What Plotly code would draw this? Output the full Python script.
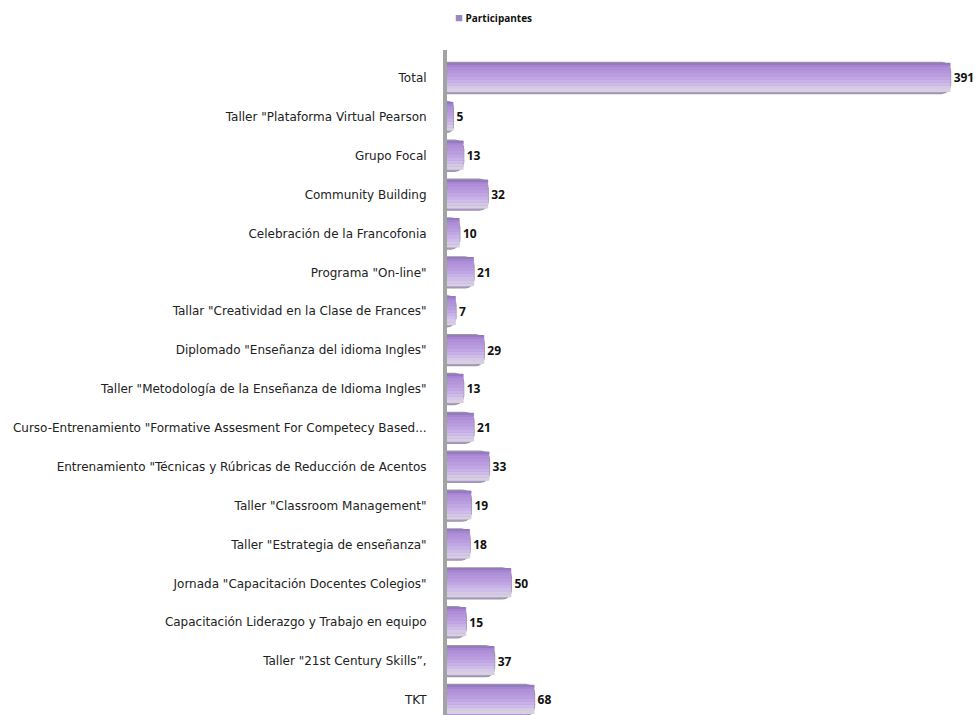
import plotly.graph_objects as go

categories = [
    "Total",
    'Taller "Plataforma Virtual Pearson',
    "Grupo Focal",
    "Community Building",
    "Celebración de la Francofonia",
    'Programa "On-line"',
    'Tallar "Creatividad en la Clase de Frances"',
    'Diplomado "Enseñanza del idioma Ingles"',
    'Taller "Metodología de la Enseñanza de Idioma Ingles"',
    'Curso-Entrenamiento "Formative Assesment For Competecy Based...',
    'Entrenamiento "Técnicas y Rúbricas de Reducción de Acentos',
    'Taller "Classroom Management"',
    'Taller "Estrategia de enseñanza"',
    'Jornada "Capacitación Docentes Colegios"',
    "Capacitación Liderazgo y Trabajo en equipo",
    'Taller "21st Century Skills”,',
    "TKT",
]
participantes = [391, 5, 13, 32, 10, 21, 7, 29, 13, 21, 33, 19, 18, 50, 15, 37, 68]
series_name = "Participantes"

# plot bottom-to-top
cats = categories[::-1]
vals = participantes[::-1]

# shading bands (offset, width, colour, radius) for the cylinder look
bands = [
    (-0.36, 0.08, "#D6D0DF", 3),
    (-0.28, 0.08, "#D6C9E6", 3),
    (-0.20, 0.08, "#CFBDE9", 3),
    (-0.12, 0.08, "#C8B1E7", 3),
    (-0.04, 0.08, "#C0A6E3", 3),
    (0.04, 0.08, "#B99DDF", 3),
    (0.20, 0.08, "#AF8FD8", 3),
    (0.28, 0.07, "#A585CF", 3),
    (0.35, 0.04, "#957AC0", 2),
]

fig = go.Figure()
# base bar (medium purple body, grey outline)
fig.add_trace(go.Bar(
    y=cats, x=vals, orientation="h", name=series_name,
    width=0.8, offset=-0.4,
    marker=dict(color="#B596DC", line=dict(color="#9C99A4", width=1.2), cornerradius=9),
    text=[str(v) for v in vals], textposition="outside", cliponaxis=False,
    textfont=dict(family="Open Sans", size=12, color="#111111", weight="bold"),
    showlegend=False, hoverinfo="skip",
))
for off, w, col, rad in bands:
    fig.add_trace(go.Bar(
        y=cats, x=vals, orientation="h", showlegend=False, hoverinfo="skip",
        width=w, offset=off,
        marker=dict(color=col, line=dict(width=0), cornerradius=rad),
    ))

fig.add_annotation(
    xref="paper", yref="paper", x=(453 - 447) / 512, y=1 + (50 - 17) / 665,
    xanchor="left", yanchor="middle", showarrow=False,
    text="<span style='color:#9C86BE;font-size:13px'>■</span> " + series_name,
    font=dict(family="Open Sans", size=10, color="#111111", weight="bold"),
)

fig.update_layout(
    width=979, height=715,
    margin=dict(l=447, r=20, t=50, b=0),
    paper_bgcolor="white", plot_bgcolor="white",
    barmode="overlay",
    showlegend=False,
    font=dict(family="DejaVu Sans", size=12, color="#222222"),
    xaxis=dict(range=[0, 397.5], visible=False, showgrid=False, zeroline=False),
    yaxis=dict(
        type="category", categoryorder="array", categoryarray=cats,
        range=[-0.386, 16.72],
        showgrid=False, zeroline=False,
        showline=True, linecolor="#A3A3A3", linewidth=4,
        ticks="outside", ticklen=14, tickcolor="rgba(0,0,0,0)",
        tickfont=dict(family="DejaVu Sans", size=12, color="#222222"),
    ),
)

fig.write_html("out.html", config={"displayModeBar": False},
               post_script="document.body.style.margin='0';")
